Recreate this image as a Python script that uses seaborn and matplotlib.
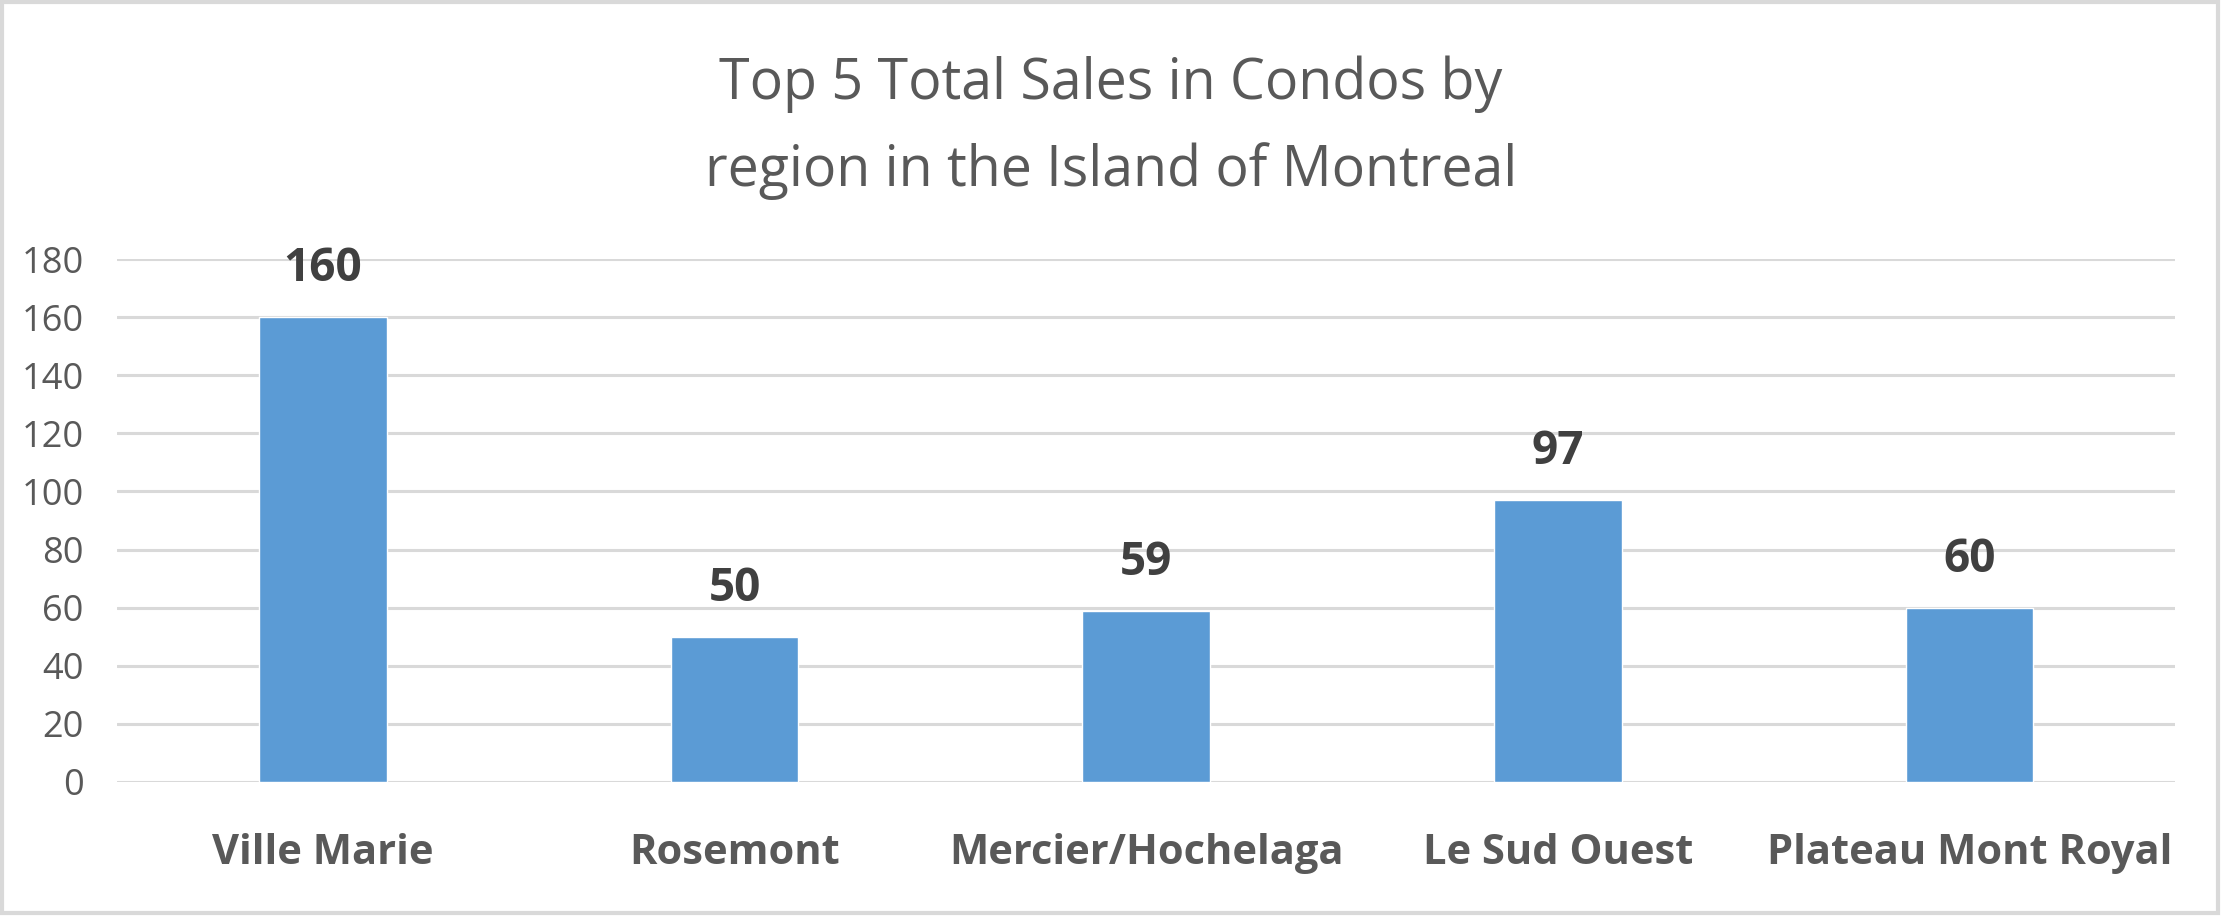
import matplotlib
matplotlib.use("Agg")
import matplotlib.pyplot as plt
import seaborn as sns
import pandas as pd

# data
regions = ['Ville Marie', 'Rosemont', 'Mercier/Hochelaga', 'Le Sud Ouest', 'Plateau Mont Royal']
sales = [160, 50, 59, 97, 60]
yticks = [0, 20, 40, 60, 80, 100, 120, 140, 160, 180]

df = pd.DataFrame({'region': regions, 'sales': sales})

sns.set_style('white')
plt.rcParams['font.family'] = ['Open Sans', 'DejaVu Sans']

text_col = '#595959'
fig = plt.figure(figsize=(22.22, 9.16), dpi=100)
ax = fig.add_axes([0.0527, 0.1463, 0.9263, 0.5709])

sns.barplot(data=df, x='region', y='sales', color='#5B9BD5', width=0.31,
            saturation=1, ax=ax, zorder=3)

ax.set_ylim(0, 180)
ax.set_yticks(yticks)
ax.set_xlim(-0.5, len(regions) - 0.5)
ax.yaxis.grid(True, color='#D9D9D9', linewidth=2.2, zorder=0)
ax.xaxis.grid(False)
for s in ax.spines.values():
    s.set_visible(False)
ax.tick_params(axis='y', length=0, pad=24, labelsize=26, labelcolor=text_col)
ax.tick_params(axis='x', length=0, pad=37, labelsize=30, labelcolor=text_col)
for lbl in ax.get_xticklabels():
    lbl.set_fontweight('bold')
ax.set_xlabel('')
ax.set_ylabel('')

ax.bar_label(ax.containers[0], padding=18, fontsize=33, fontweight='bold', color='#404040')

fig.text(0.5, 0.908, 'Top 5 Total Sales in Condos by', ha='center', va='center',
         fontsize=40, color=text_col)
fig.text(0.5, 0.813, 'region in the Island of Montreal', ha='center', va='center',
         fontsize=40, color=text_col)

# light frame around the chart
fig.patches.append(plt.Rectangle((0.001, 0.003), 0.997, 0.995, transform=fig.transFigure,
                                 fill=False, edgecolor='#D9D9D9', linewidth=3))

fig.savefig('out.png', dpi=100, facecolor='white')
